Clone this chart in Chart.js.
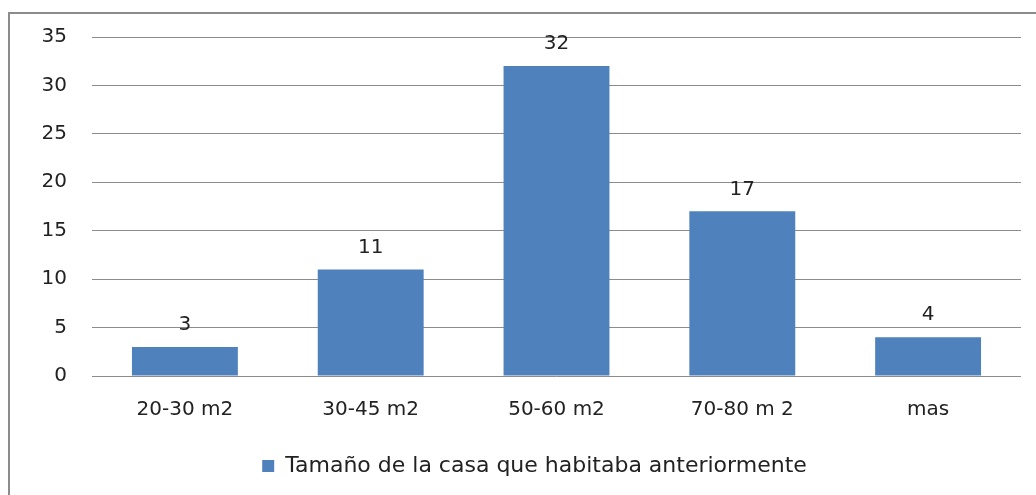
<!DOCTYPE html>
<html><head><meta charset="utf-8">
<script src="https://cdn.jsdelivr.net/npm/chart.js@4.4.0/dist/chart.umd.min.js"></script>
<style>
html,body{margin:0;padding:0;background:#fff;overflow:hidden}
#frame{position:absolute;left:8px;top:12px;width:1100px;height:600px;border:2px solid #8c8c8c;box-sizing:border-box}
#wrap{position:absolute;left:0;top:0;width:1036px;height:495px}
</style></head>
<body>
<div id="frame"></div>
<div id="wrap"><canvas id="c" width="1036" height="495"></canvas></div>
<script>
const categories = ["20-30 m2", "30-45 m2", "50-60 m2", "70-80 m 2", "mas"];
const values = [3, 11, 32, 17, 4];
const seriesName = "Tamaño de la casa que habitaba anteriormente";
const yTicks = [0, 5, 10, 15, 20, 25, 30, 35];

const FONT = "'DejaVu Sans', sans-serif";

const valueLabels = {
  id: 'valueLabels',
  afterDatasetsDraw(chart) {
    const ctx = chart.ctx;
    ctx.save();
    ctx.font = "20px " + FONT;
    ctx.fillStyle = "#222";
    ctx.textAlign = "center";
    ctx.textBaseline = "middle";
    chart.getDatasetMeta(0).data.forEach((bar, i) => {
      ctx.fillText(String(values[i]), bar.x, bar.y - 22);
    });
    ctx.restore();
  }
};

const legendShift = {
  id: 'legendShift',
  afterLayout(chart) {
    if (chart.legend) {
      chart.legend.left += 24;
      chart.legend.right += 24;
    }
  }
};

new Chart(document.getElementById('c'), {
  type: 'bar',
  data: {
    labels: categories,
    datasets: [{
      label: seriesName,
      data: values,
      backgroundColor: '#4F81BD',
      borderWidth: 0,
      categoryPercentage: 1,
      barPercentage: 0.57
    }]
  },
  options: {
    responsive: false,
    animation: false,
    layout: { padding: { left: 0, right: 15, top: 37, bottom: 8 } },
    plugins: {
      tooltip: { enabled: false },
      legend: {
        position: 'bottom',
        labels: {
          font: { family: FONT, size: 22 },
          color: '#222',
          boxWidth: 12,
          boxHeight: 12,
          padding: 10
        }
      }
    },
    scales: {
      x: {
        grid: { display: false },
        border: { display: false },
        ticks: { font: { family: FONT, size: 20 }, color: '#222', padding: 14 },
        afterFit(s) { s.height = 69; }
      },
      y: {
        min: 0, max: 35,
        afterBuildTicks(s) { s.ticks = yTicks.map(v => ({ value: v })); },
        grid: { color: '#8c8c8c', lineWidth: 1, drawTicks: false },
        border: { display: false },
        ticks: { font: { family: FONT, size: 20 }, color: '#222', padding: 25 },
        afterFit(s) { s.width = 92; }
      }
    }
  },
  plugins: [valueLabels, legendShift]
});
</script>
</body></html>
